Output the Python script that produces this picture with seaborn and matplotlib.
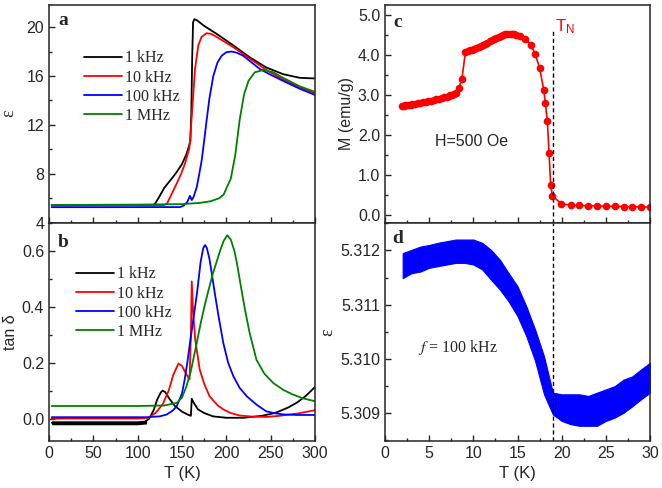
import numpy as np
import pandas as pd
import matplotlib
matplotlib.use("Agg")
import matplotlib.pyplot as plt
from matplotlib.ticker import MultipleLocator
import seaborn as sns

freqs = ["1 kHz", "10 kHz", "100 kHz", "1 MHz"]
colors = ["black", "red", "blue", "green"]

# panel a: epsilon vs T
T_eps_1k = [3, 60, 118, 120, 125, 130, 135, 140, 145, 150, 155, 158, 159.5, 160.5, 161.5, 162.5,
            164, 167, 175, 189, 208, 227, 245, 264, 283, 300]
eps_1k = [5.42, 5.43, 5.45, 5.6, 6.2, 6.85, 7.3, 7.75, 8.25, 8.8, 9.6, 10.3, 10.7, 13.0, 17.5, 20.4,
          20.65, 20.55, 20.1, 19.45, 18.5, 17.5, 16.7, 16.15, 15.85, 15.8]
T_eps_10k = [3, 60, 130, 133, 138, 144, 149, 153.4, 158.3, 161, 164.7, 168.4, 172, 177.8, 183, 189,
             208, 227, 245, 264, 283, 300]
eps_10k = [5.42, 5.43, 5.45, 5.55, 6.3, 7.2, 8.0, 8.85, 10.1, 12.7, 16.6, 18.5, 19.2, 19.5, 19.45, 19.2,
           18.35, 17.4, 16.5, 15.7, 15.05, 14.6]
T_eps_100k = [3, 60, 148, 152, 156, 159, 161, 163, 166.6, 169, 172.2, 175, 177.8, 181, 185.3, 190,
              194.8, 200, 206, 212, 219, 238, 250, 264, 283, 300]
eps_100k = [5.27, 5.27, 5.28, 5.4, 5.7, 6.2, 5.85, 6.1, 6.9, 7.8, 9.1, 10.7, 12.4, 14.2, 16.0, 17.1,
            17.66, 17.95, 18.0, 17.9, 17.66, 16.56, 16.1, 15.6, 14.95, 14.45]
T_eps_1M = [3, 100, 150, 170, 182, 192, 197, 200, 205, 210, 215, 220, 225, 232, 242, 253, 264, 283, 300]
eps_1M = [5.45, 5.48, 5.52, 5.62, 5.75, 6.0, 6.3, 6.8, 7.6, 9.5, 12.4, 14.5, 15.6, 16.3, 16.5, 16.3,
          15.85, 15.15, 14.7]

# panel b: tan delta vs T
T_tan_1k = [3, 50, 100, 108, 113, 118, 122, 126, 128, 131, 136, 142, 150, 156, 160, 161, 163, 168,
            175, 185, 200, 220, 240, 255, 270, 280, 290, 300]
tan_1k = [-0.015, -0.015, -0.015, -0.012, 0.0, 0.03, 0.068, 0.093, 0.1, 0.095, 0.07, 0.045, 0.025,
          0.015, 0.01, 0.071, 0.058, 0.033, 0.02, 0.008, 0.003, 0.003, 0.01, 0.02, 0.04, 0.058, 0.082, 0.113]
T_tan_10k = [3, 100, 112, 120, 128, 135, 140, 146, 150, 155, 158.5, 160, 161, 162.5, 165, 170, 175,
             181, 190, 197, 205, 215, 230, 245, 260, 280, 300]
tan_10k = [0.0, 0.0, 0.003, 0.02, 0.05, 0.1, 0.155, 0.197, 0.188, 0.158, 0.14, 0.3, 0.49, 0.38, 0.28,
           0.175, 0.125, 0.08, 0.048, 0.032, 0.02, 0.011, 0.007, 0.006, 0.01, 0.018, 0.03]
T_tan_100k = [3, 110, 125, 133, 140, 144, 150, 153, 156, 159, 163, 167, 171, 174, 176, 178, 181, 184,
              187, 191, 196.6, 202, 208, 215, 223, 234, 245, 255, 264, 280, 300]
tan_100k = [0.005, 0.005, 0.008, 0.015, 0.03, 0.044, 0.09, 0.139, 0.2, 0.27, 0.36, 0.45, 0.56, 0.61,
            0.62, 0.61, 0.57, 0.51, 0.448, 0.37, 0.27, 0.2, 0.151, 0.11, 0.08, 0.05, 0.026, 0.019,
            0.015, 0.013, 0.013]
T_tan_1M = [3, 100, 130, 144, 150, 155, 160, 166.6, 171, 176, 180, 185, 189, 193, 197, 201, 205, 209,
            212, 216, 221, 226, 234, 243, 253, 264, 275, 287, 300]
tan_1M = [0.045, 0.045, 0.047, 0.056, 0.075, 0.115, 0.17, 0.27, 0.34, 0.41, 0.46, 0.52, 0.56, 0.6,
          0.635, 0.655, 0.64, 0.6, 0.555, 0.48, 0.39, 0.31, 0.21, 0.16, 0.127, 0.103, 0.086, 0.072, 0.062]
T_base_1k = [3, 50, 100, 110]
tan_base_lo = [-0.022, -0.022, -0.022, -0.019]
tan_base_hi = [-0.008, -0.008, -0.008, -0.005]

# panel c: magnetization
T_M = [1.9, 2.1, 2.3, 2.5, 2.7, 2.9, 3.1, 3.4, 3.7, 4.0, 4.3, 4.6, 4.9, 5.2, 5.5, 5.8, 6.1, 6.4, 6.7,
       7.0, 7.2, 7.4, 7.6, 7.8, 8.0, 8.35, 8.7, 9.1, 9.35, 9.6, 9.85, 10.1, 10.35, 10.6, 10.85, 11.1,
       11.35, 11.6, 11.85, 12.1, 12.35, 12.6, 12.85, 13.1, 13.35, 13.6, 13.85, 14.1, 14.35, 14.6, 14.85,
       15.3, 15.85, 16.5, 17.0, 17.5, 17.97, 18.15, 18.38, 18.57, 18.76, 18.95, 19.97, 21.0, 22.0, 23.0,
       24.0, 25.0, 26.0, 27.0, 28.0, 29.0, 29.95]
M = [2.72, 2.73, 2.74, 2.745, 2.75, 2.76, 2.77, 2.78, 2.79, 2.80, 2.815, 2.83, 2.845, 2.86, 2.875, 2.89,
     2.905, 2.92, 2.94, 2.96, 2.975, 2.99, 3.01, 3.03, 3.05, 3.18, 3.39, 4.07, 4.10, 4.12, 4.13, 4.15,
     4.17, 4.20, 4.22, 4.25, 4.28, 4.31, 4.34, 4.37, 4.40, 4.43, 4.46, 4.48, 4.50, 4.52, 4.53, 4.53,
     4.53, 4.52, 4.50, 4.47, 4.40, 4.26, 4.02, 3.68, 3.13, 2.80, 2.34, 1.56, 0.74, 0.48, 0.28, 0.25,
     0.24, 0.23, 0.23, 0.22, 0.22, 0.21, 0.21, 0.20, 0.20]

# panel d: epsilon at 100 kHz, noisy band (upper / lower envelope)
T_d = list(range(2, 31))
eps_d_hi = [5.31195, 5.31201, 5.31207, 5.31210, 5.31214, 5.31217, 5.31220, 5.31220, 5.31220, 5.31214,
            5.31201, 5.31183, 5.31158, 5.31134, 5.31097, 5.31054, 5.31005, 5.30938, 5.30935, 5.30935,
            5.30935, 5.30932, 5.30938, 5.30944, 5.30950, 5.30962, 5.30968, 5.30981, 5.30993]
eps_d_lo = [5.31149, 5.31158, 5.31161, 5.31168, 5.31171, 5.31174, 5.31177, 5.31177, 5.31174, 5.31165,
            5.31146, 5.31128, 5.31106, 5.31079, 5.31042, 5.30996, 5.30935, 5.30898, 5.30886, 5.30880,
            5.30877, 5.30877, 5.30877, 5.30886, 5.30892, 5.30901, 5.30913, 5.30926, 5.30938]

T_N = 19

sns.set_style("ticks")
plt.rcParams["font.family"] = ["Liberation Sans", "DejaVu Sans"]
plt.rcParams["mathtext.fontset"] = "stix"
plt.rcParams["axes.linewidth"] = 1.1
plt.rcParams["xtick.direction"] = "in"
plt.rcParams["ytick.direction"] = "in"

def long_df(xs, ys):
    rows = []
    for f, x, y in zip(freqs, xs, ys):
        rows.append(pd.DataFrame({"T": x, "v": y, "freq": f}))
    return pd.concat(rows, ignore_index=True)

df_a = long_df([T_eps_1k, T_eps_10k, T_eps_100k, T_eps_1M], [eps_1k, eps_10k, eps_100k, eps_1M])
df_b = long_df([T_tan_1k, T_tan_10k, T_tan_100k, T_tan_1M], [tan_1k, tan_10k, tan_100k, tan_1M])
df_c = pd.DataFrame({"T": T_M, "M": M})

fig = plt.figure(figsize=(6.62, 4.88), dpi=100)
W, H = 662, 488
def box(x0, y0, x1, y1):
    return [x0 / W, 1 - y1 / H, (x1 - x0) / W, (y1 - y0) / H]

ax_a = fig.add_axes(box(49, 4.5, 315, 222.7))
ax_b = fig.add_axes(box(49, 222.7, 315, 441))
ax_c = fig.add_axes(box(385, 4.5, 650, 222.7))
ax_d = fig.add_axes(box(385, 222.7, 650, 441))

pal = dict(zip(freqs, colors))
sns.lineplot(data=df_a, x="T", y="v", hue="freq", palette=pal, estimator=None, sort=False,
             linewidth=1.3, ax=ax_a)
sns.lineplot(data=df_b, x="T", y="v", hue="freq", palette=pal, estimator=None, sort=False,
             linewidth=1.3, ax=ax_b)
ax_b.fill_between(T_base_1k, tan_base_lo, tan_base_hi, color="black", lw=0)
sns.lineplot(data=df_c, x="T", y="M", color="red", marker="o", markersize=5.5, markeredgewidth=0,
             estimator=None, sort=False, linewidth=1.2, ax=ax_c)
ax_d.fill_between(T_d, eps_d_lo, eps_d_hi, color="#0000ff", lw=0.8, edgecolor="#0000ff")

legend_font = {"family": "Liberation Serif", "size": 11.5}
for ax, anchor in [(ax_a, (0.13, 0.79)), (ax_b, (0.10, 0.80))]:
    ax.legend(loc="upper left", bbox_to_anchor=anchor, frameon=False, prop=legend_font,
              handlelength=2.4, handletextpad=0.2, labelspacing=0.2, borderpad=0, borderaxespad=0)

# limits and ticks
for ax in (ax_a, ax_b):
    ax.set_xlim(0, 300)
    ax.xaxis.set_major_locator(MultipleLocator(50))
    ax.xaxis.set_minor_locator(MultipleLocator(25))
for ax in (ax_c, ax_d):
    ax.set_xlim(0, 30)
    ax.xaxis.set_major_locator(MultipleLocator(5))
    ax.xaxis.set_minor_locator(MultipleLocator(2.5))

ax_a.set_ylim(4, 21.85)
ax_a.yaxis.set_major_locator(MultipleLocator(4))
ax_a.yaxis.set_minor_locator(MultipleLocator(2))
ax_b.set_ylim(-0.08, 0.70)
ax_b.yaxis.set_major_locator(MultipleLocator(0.2))
ax_b.yaxis.set_minor_locator(MultipleLocator(0.1))
ax_b.set_yticks([0.0, 0.2, 0.4, 0.6])
ax_c.set_ylim(-0.19, 5.26)
ax_c.yaxis.set_major_locator(MultipleLocator(1.0))
ax_c.yaxis.set_minor_locator(MultipleLocator(0.5))
ax_c.set_yticks([0, 1, 2, 3, 4, 5])
ax_c.set_yticklabels(["0.0", "1.0", "2.0", "3.0", "4.0", "5.0"])
ax_d.set_ylim(5.30849, 5.31251)
ax_d.set_yticks([5.309, 5.310, 5.311, 5.312])
ax_d.set_yticklabels(["5.309", "5.310", "5.311", "5.312"])
ax_d.yaxis.set_minor_locator(MultipleLocator(0.0005))

for ax in (ax_a, ax_b, ax_c, ax_d):
    ax.tick_params(which="major", length=4, width=1, labelsize=11.5, top=False, right=False)
    ax.tick_params(which="minor", length=2.2, width=1, top=False, right=False)
    for s in ax.spines.values():
        s.set_visible(True)
        s.set_linewidth(1.1)
    ax.set_xlabel("")
    ax.set_ylabel("")

ax_a.tick_params(labelbottom=False)
ax_c.tick_params(labelbottom=False)

ax_a.set_ylabel("ε", family="Liberation Serif", fontsize=13)
ax_a.yaxis.set_label_coords(-0.12, 0.5)
ax_b.set_ylabel("tan δ", fontsize=11.5, labelpad=3)
ax_c.set_ylabel("M (emu/g)", fontsize=11.5, labelpad=3)
ax_d.set_ylabel("ε", family="Liberation Serif", fontsize=13, labelpad=3)
ax_b.set_xlabel("T (K)", fontsize=12, labelpad=4)
ax_d.set_xlabel("T (K)", fontsize=12, labelpad=4)

letter = dict(family="Liberation Serif", fontweight="bold", fontsize=14, va="baseline")
ax_a.text(0.036, 0.906, "a", transform=ax_a.transAxes, **letter)
ax_b.text(0.034, 0.889, "b", transform=ax_b.transAxes, **letter)
ax_c.text(0.033, 0.898, "c", transform=ax_c.transAxes, **letter)
ax_d.text(0.029, 0.906, "d", transform=ax_d.transAxes, **letter)

# T_N dashed line and labels
lo, hi = ax_c.get_ylim()
ax_c.axvline(T_N, ymax=(4.65 - lo) / (hi - lo), color="black", ls=(0, (3, 2)), lw=1)
ax_d.axvline(T_N, color="black", ls=(0, (3, 2)), lw=1)
ax_c.text(19.25, 4.58, r"$\mathregular{T_N}$", color="red", fontsize=12, va="baseline")
ax_c.text(9.85, 1.83, "H=500 Oe", fontsize=11.5, ha="center", va="center")
ax_d.text(8.3, 5.31021, r"$f$ = 100 kHz", family="Liberation Serif", fontsize=11.5,
          ha="center", va="center")

fig.savefig("out.png", dpi=100)
